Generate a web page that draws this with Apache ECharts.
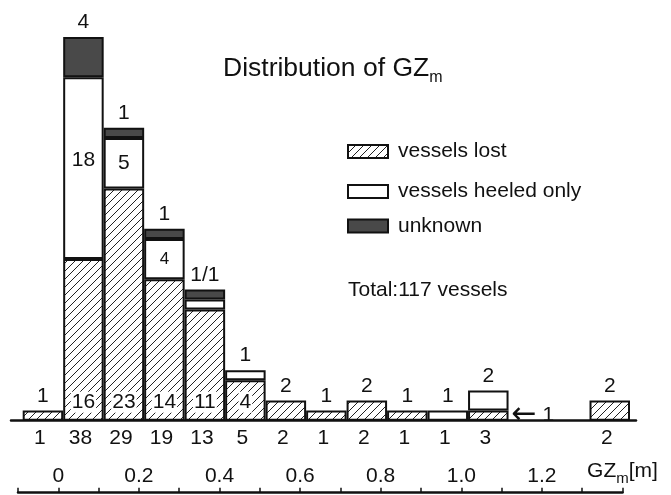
<!DOCTYPE html>
<html><head><meta charset="utf-8">
<script src="https://cdn.jsdelivr.net/npm/echarts@6/dist/echarts.min.js"></script>
<style>html,body{margin:0;padding:0;background:#fff}#c{width:671px;height:495px}</style>
</head><body><div id="c"></div>
<script>
// ---- data ----
const binTotals    = ['1','38','29','19','13','5','2','1','2','1','1','3','','','2'];
const lost         = [1,16,23,14,11,4,2,1,2,1,0,1,0,0,2];
const heeled       = [0,18,5,4,1,1,0,0,0,0,1,2,0,0,0];
const unknown      = [0,4,1,1,1,0,0,0,0,0,0,0,0,0,0];
const topLabels    = ['1','4','1','1','1/1','1','2','1','2','1','1','2','','','2'];
const lostInside   = ['','16','23','14','11','4','','','','','','','','',''];
const heeledInside = ['','18','5','4','','','','','','','','','','',''];
const arrowLabel   = ['','','','','','','','','','','','1','','',''];
const gzMin = -0.1, gzMax = 1.4, gzStep = 0.1;
const gzAxisName = 'GZ{sub|m}[m]';
const seriesNames = ['vessels lost','vessels heeled only','unknown'];
const titleText = 'Distribution of GZ{sub|m}';
const totalText = 'Total:117 vessels';

// ---- styling ----
const FONT = "'Liberation Sans', Arial, sans-serif";
const INK = '#111';
const lbl = {fontFamily: FONT, fontSize: 21, color: INK};

function makeHatch() {
  const c = document.createElement('canvas');
  c.width = 8; c.height = 8;
  const g = c.getContext('2d');
  g.fillStyle = '#fff'; g.fillRect(0, 0, 8, 8);
  g.strokeStyle = '#222'; g.lineWidth = 1;
  g.beginPath();
  g.moveTo(0, 8); g.lineTo(8, 0);
  g.moveTo(-1, 1); g.lineTo(1, -1);
  g.moveTo(7, 9); g.lineTo(9, 7);
  g.stroke();
  return c;
}
const hatch = makeHatch();
const border = {borderColor: INK, borderWidth: 2};
const nz = v => (v > 0 ? v : '-');

const lostData = lost.map((v, i) => {
  const d = {value: nz(v)};
  if (lostInside[i]) {
    d.label = Object.assign({show: true, position: 'insideBottom', distance: 8,
      formatter: lostInside[i], backgroundColor: '#fff', padding: [0, 1]}, lbl);
  } else if (arrowLabel[i]) {
    d.label = Object.assign({show: true, position: 'right', distance: 3,
      formatter: '{a|←} ' + arrowLabel[i],
      rich: {a: {fontFamily: 'DejaVu Sans', fontSize: 30, color: INK}}}, lbl);
  }
  return d;
});
const heeledData = heeled.map((v, i) => {
  const d = {value: nz(v)};
  if (heeledInside[i]) {
    d.label = Object.assign({show: true, position: 'inside', formatter: heeledInside[i]}, lbl);
    if (i === 1) d.label.offset = [0, -8];
    if (i === 3) d.label.fontSize = 17;
  }
  return d;
});

const gzFormatter = v => {
  const k = Math.round(v * 10);
  if (k === 14) return gzAxisName;
  if (k >= 0 && k <= 12 && k % 2 === 0) return k === 0 ? '0' : (k / 10).toFixed(1);
  return '';
};

const option = {
  animation: false,
  backgroundColor: '#fff',
  title: [
    {text: titleText, left: 223, top: 51, padding: 0,
     textStyle: {fontFamily: FONT, fontSize: 26.5, fontWeight: 'normal', color: INK,
       rich: {sub: {fontFamily: FONT, fontSize: 16, color: INK, padding: [19, 0, 0, 0]}}}},
    {text: totalText, left: 348, top: 280, padding: 0,
     textStyle: {fontFamily: FONT, fontSize: 21, fontWeight: 'normal', color: INK}}
  ],
  legend: seriesNames.map((n, i) => ({
    data: [n], left: 347, top: [141, 181, 215.5][i], orient: 'vertical', padding: 0,
    itemWidth: 40, itemHeight: 13, icon: 'rect', selectedMode: false,
    textStyle: {fontFamily: FONT, fontSize: 21, color: INK, padding: [0, 0, 0, 5]}
  })),
  grid: [
    {left: 22.7, right: 41, top: 16.7, bottom: 74.3},
    {left: 18, right: 48.5, top: 400, bottom: 2.3},
    {left: 11, right: 35, top: 16.7, bottom: 74.3}
  ],
  xAxis: [
    {type: 'category', gridIndex: 0, data: binTotals.map((_, i) => String(i)),
     axisLine: {show: false}, axisTick: {show: false},
     axisLabel: Object.assign({margin: 7, interval: 0, padding: [0, 6, 0, 0],
       formatter: (v, i) => binTotals[i]}, lbl)},
    {type: 'value', gridIndex: 1, min: gzMin, max: gzMax, interval: gzStep,
     axisLine: {lineStyle: {color: INK, width: 2.5}},
     axisTick: {inside: true, length: 5, lineStyle: {color: INK, width: 1.5}},
     axisLabel: Object.assign({inside: true, margin: 6, formatter: gzFormatter,
       showMinLabel: true, showMaxLabel: true,
       rich: {sub: {fontFamily: FONT, fontSize: 15, color: INK, padding: [16, 0, 0, 0]}}}, lbl),
     splitLine: {show: false}},
    {type: 'value', gridIndex: 2, min: 0, max: 1,
     axisLine: {lineStyle: {color: INK, width: 2.5}},
     axisTick: {show: false}, axisLabel: {show: false}, splitLine: {show: false}}
  ],
  yAxis: [
    {type: 'value', gridIndex: 0, min: 0, max: 40, show: false},
    {type: 'value', gridIndex: 1, show: false},
    {type: 'value', gridIndex: 2, show: false}
  ],
  series: [
    {name: seriesNames[0], type: 'bar', stack: 's', barCategoryGap: '0%',
     itemStyle: Object.assign({color: {image: hatch, repeat: 'repeat'}}, border),
     data: lostData},
    {name: seriesNames[1], type: 'bar', stack: 's', barCategoryGap: '0%',
     itemStyle: Object.assign({color: '#fff'}, border), data: heeledData},
    {name: seriesNames[2], type: 'bar', stack: 's', barCategoryGap: '0%',
     itemStyle: Object.assign({color: '#494949'}, border), data: unknown.map(nz)},
    {name: 'top', type: 'bar', stack: 's', barCategoryGap: '0%', silent: true,
     itemStyle: {color: 'rgba(0,0,0,0)', borderWidth: 0},
     label: Object.assign({show: true, position: 'top', distance: 4,
       formatter: p => topLabels[p.dataIndex]}, lbl),
     data: topLabels.map(t => (t ? 0 : '-'))}
  ]
};
const chart = echarts.init(document.getElementById('c'), null, {renderer: 'canvas'});
chart.setOption(option);
</script>
</body></html>
